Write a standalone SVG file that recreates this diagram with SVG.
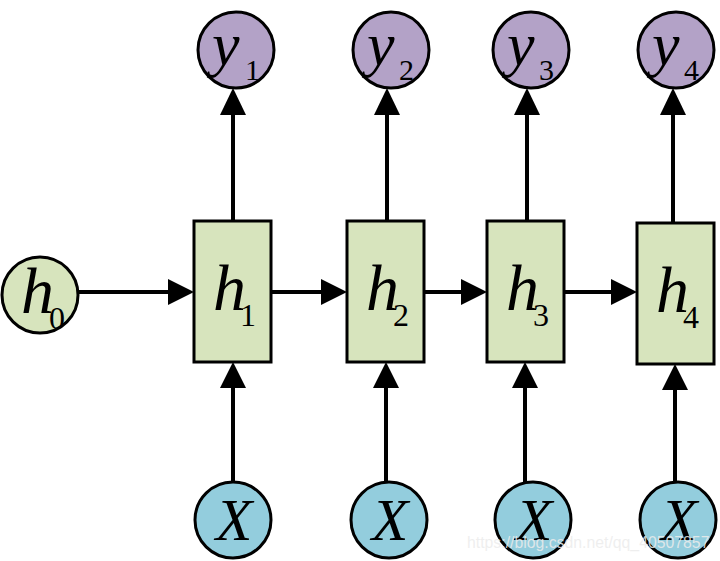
<svg xmlns="http://www.w3.org/2000/svg" width="720" height="561" viewBox="0 0 720 561">
<defs>
<style>
.g{fill:#d7e4bd;stroke:#000;stroke-width:3}
.p{fill:#b3a2c7;stroke:#000;stroke-width:3}
.b{fill:#93cddd;stroke:#000;stroke-width:3}
.c line{stroke:#000;stroke-width:4}
.c polygon{fill:#000}
.m{font-family:"Liberation Serif","Times New Roman",serif;font-style:italic;fill:#000}
.s{font-family:"Liberation Serif","Times New Roman",serif;font-style:normal;fill:#000}
.w{font-family:"Liberation Sans",Arial,sans-serif;font-size:15.8px;fill:#ececec;fill-opacity:0.85}
</style>
</defs>
<rect width="720" height="561" fill="#fff"/>
<g id="connectors" class="c">
<line x1="78" y1="292" x2="170" y2="292"/><polygon points="194,292 168,279 168,305"/>
<line x1="271" y1="292" x2="323" y2="292"/><polygon points="347,292 321,279 321,305"/>
<line x1="424" y1="292" x2="463" y2="292"/><polygon points="487,292 461,279 461,305"/>
<line x1="564" y1="292" x2="613" y2="292"/><polygon points="637,292 611,279 611,305"/>
<line x1="233" y1="221" x2="233" y2="112"/><polygon points="233,88 220,115 246,115"/>
<line x1="387" y1="221" x2="387" y2="112"/><polygon points="387,88 374,115 400,115"/>
<line x1="527" y1="221" x2="527" y2="112"/><polygon points="527,88 514,115 540,115"/>
<line x1="673" y1="223" x2="673" y2="112"/><polygon points="673,88 660,115 686,115"/>
<line x1="233" y1="482" x2="233" y2="386"/><polygon points="233,362 220,388 246,388"/>
<line x1="386" y1="482" x2="386" y2="386"/><polygon points="386,362 373,388 399,388"/>
<line x1="525" y1="482" x2="525" y2="386"/><polygon points="525,362 512,388 538,388"/>
<line x1="675" y1="482" x2="675" y2="388"/><polygon points="675,364 662,390 688,390"/>
</g>
<g id="h0"><circle class="g" cx="40" cy="295" r="38"/><text class="m" x="21" y="313" font-size="66">h</text><text class="s" x="49" y="329" font-size="32">0</text></g>
<g id="h1"><rect class="g" x="194" y="221" width="77" height="141"/><text class="m" x="213" y="310" font-size="66">h</text><text class="s" x="240" y="326" font-size="32">1</text></g>
<g id="h2"><rect class="g" x="347" y="221" width="77" height="141"/><text class="m" x="366" y="310" font-size="66">h</text><text class="s" x="393" y="326" font-size="32">2</text></g>
<g id="h3"><rect class="g" x="487" y="221" width="77" height="141"/><text class="m" x="506" y="310" font-size="66">h</text><text class="s" x="533" y="326" font-size="32">3</text></g>
<g id="h4"><rect class="g" x="637" y="223" width="77" height="141"/><text class="m" x="656" y="312" font-size="66">h</text><text class="s" x="683" y="328" font-size="32">4</text></g>
<g id="y1"><circle class="p" cx="236" cy="50" r="38"/><text class="m" x="212" y="65" font-size="62">y</text><text class="s" x="245" y="80" font-size="30">1</text></g>
<g id="y2"><circle class="p" cx="391" cy="50" r="38"/><text class="m" x="367" y="65" font-size="62">y</text><text class="s" x="399" y="80" font-size="30">2</text></g>
<g id="y3"><circle class="p" cx="531" cy="50" r="38"/><text class="m" x="507" y="65" font-size="62">y</text><text class="s" x="539" y="80" font-size="30">3</text></g>
<g id="y4"><circle class="p" cx="676" cy="50" r="38"/><text class="m" x="652" y="65" font-size="62">y</text><text class="s" x="684" y="80" font-size="30">4</text></g>
<g id="x1"><circle class="b" cx="233" cy="520" r="38"/><text class="m" x="234" y="540" font-size="60" text-anchor="middle">X</text></g>
<g id="x2"><circle class="b" cx="389" cy="520" r="38"/><text class="m" x="390" y="540" font-size="60" text-anchor="middle">X</text></g>
<g id="x3"><circle class="b" cx="533" cy="520" r="38"/><text class="m" x="534" y="540" font-size="60" text-anchor="middle">X</text></g>
<g id="x4"><circle class="b" cx="678" cy="520" r="38"/><text class="m" x="679" y="540" font-size="60" text-anchor="middle">X</text></g>
<text class="w" x="467" y="548">https://blog.csdn.net/qq_40507857</text>
</svg>
